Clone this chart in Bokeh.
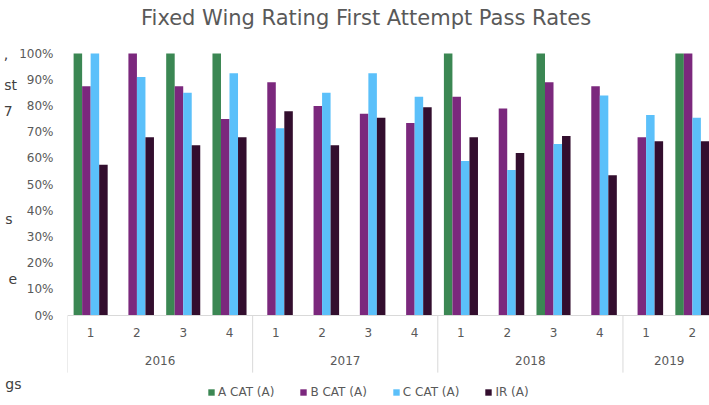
import numpy as np
from bokeh.plotting import figure
from bokeh.models import (ColumnDataSource, Range1d, FixedTicker, PrintfTickFormatter,
                          Legend, LegendItem, Label, Span, LinearAxis)
from bokeh.transform import dodge
from bokeh.core.properties import value
from bokeh.embed import file_html
from bokeh.resources import INLINE

nan = float("nan")

# ---- data ----
years = ["2016", "2016", "2016", "2016",
         "2017", "2017", "2017", "2017",
         "2018", "2018", "2018", "2018",
         "2019", "2019"]
quarters = ["1", "2", "3", "4", "1", "2", "3", "4", "1", "2", "3", "4", "1", "2"]
a_cat = [100, nan, 100, 100, nan, nan, nan, nan, 100, nan, 100, nan, nan, 100]
b_cat = [87.5, 100, 87.5, 75, 89, 80, 77, 73.5, 83.5, 79, 89, 87.5, 68, 100]
c_cat = [100, 91, 85, 92.5, 71.5, 85, 92.5, 83.5, 59, 55.5, 65.5, 84, 76.5, 75.5]
ir = [57.5, 68, 65, 68, 78, 65, 75.5, 79.5, 68, 62, 68.5, 53.5, 66.5, 66.5]
series_names = ["A CAT (A)", "B CAT (A)", "C CAT (A)", "IR (A)"]
series_cols = ["a", "b", "c", "ir"]
colors = ["#3b8753", "#7b287d", "#5bc0fa", "#330e2e"]
y_ticks = list(range(0, 101, 10))
title_text = "Fixed Wing Rating First Attempt Pass Rates"
# cut-off words of a neighbouring slide text box, at the left edge
side_fragments = [",", "st", "7", "s", "e", "gs"]
side_fragment_levels = [100, 88, 78, 37, 14, -26]
NB = "\u00a0"
side_fragment_pad = [3, 1, 2, 2, 1, 0]

FONT = "DejaVu Sans"
TXT = "#595959"
LINE = "#d9d9d9"

n = len(quarters)
centers = np.arange(n) + 0.5
src = ColumnDataSource(dict(x=centers, a=a_cat, b=b_cat, c=c_cat, ir=ir, q=quarters))

# year groups
bounds = [i for i in range(n) if i == 0 or years[i] != years[i - 1]] + [n]
grp_years = [years[b] for b in bounds[:-1]]
grp_mid = [(bounds[k] + bounds[k + 1]) / 2 for k in range(len(grp_years))]
ysrc = ColumnDataSource(dict(x=grp_mid, t=grp_years))
sep_src = ColumnDataSource(dict(x=bounds))

LEFT = 67
p = figure(width=709, height=405, output_backend="svg", toolbar_location=None,
           x_range=Range1d(0, 13.87), y_range=Range1d(-34.35, 120.23),
           x_axis_type=None, min_border_left=LEFT, min_border_right=0,
           min_border_top=0, min_border_bottom=0)
p.outline_line_color = None
p.grid.grid_line_color = None
p.background_fill_color = "white"
p.border_fill_color = "white"

bw = 0.184
offsets = [-1.5 * bw, -0.5 * bw, 0.5 * bw, 1.5 * bw]
renderers = []
for col, off, colr in zip(series_cols, offsets, colors):
    r = p.vbar(x=dodge("x", off, range=p.x_range), top=col, bottom=0, width=bw,
               source=src, fill_color=colr, line_color=None)
    renderers.append(r)

# category axis drawn with the plot's scales
p.add_layout(Span(location=0, dimension="width", line_color=LINE, line_width=1))
p.segment(x0="x", y0=0, x1="x", y1=-21.8, source=sep_src, line_color=LINE, line_width=1)
p.text(x="x", y=-6.5, text="q", source=src, text_align="center", text_baseline="middle",
       text_font=value(FONT), text_font_size="12px", text_color=TXT)
p.text(x="x", y=-17.2, text="t", source=ysrc, text_align="center", text_baseline="middle",
       text_font=value(FONT), text_font_size="12px", text_color=TXT)

# y axis
ya = p.yaxis[0]
ya.ticker = FixedTicker(ticks=y_ticks)
ya.formatter = PrintfTickFormatter(format="%d%%")
ya.axis_line_color = None
ya.major_tick_line_color = None
ya.minor_tick_line_color = None
ya.major_tick_out = 0
ya.major_tick_in = 0
ya.major_label_standoff = 14
ya.major_label_text_font = FONT
ya.major_label_text_font_size = "12px"
ya.major_label_text_color = TXT

# outer left axis carrying the cut-off side text fragments
fa = LinearAxis(ticker=FixedTicker(ticks=side_fragment_levels),
                major_label_overrides={k: t + NB * pad for k, t, pad in
                                       zip(side_fragment_levels, side_fragments, side_fragment_pad)},
                axis_line_color=None, major_tick_line_color=None, minor_tick_line_color=None,
                major_tick_out=0, major_tick_in=0, major_label_standoff=-5,
                major_label_text_font=FONT, major_label_text_font_size="14px",
                major_label_text_color="#404040")
p.add_layout(fa, "left")

# title
p.add_layout(Label(x=6.45, y=113.4, text=title_text, text_align="center",
                   text_baseline="middle", text_font=FONT, text_font_size="21px",
                   text_color=TXT))

legend = Legend(items=[LegendItem(label=nm, renderers=[r]) for nm, r in zip(series_names, renderers)],
                orientation="horizontal", location=(140, 6), glyph_width=8, glyph_height=8,
                label_standoff=3, spacing=25, padding=0, margin=0,
                border_line_color=None, background_fill_alpha=0,
                label_text_font=FONT, label_text_font_size="12px", label_text_color=TXT,
                label_height=12)
p.add_layout(legend)

open("out.html", "w").write(file_html(p, INLINE))
